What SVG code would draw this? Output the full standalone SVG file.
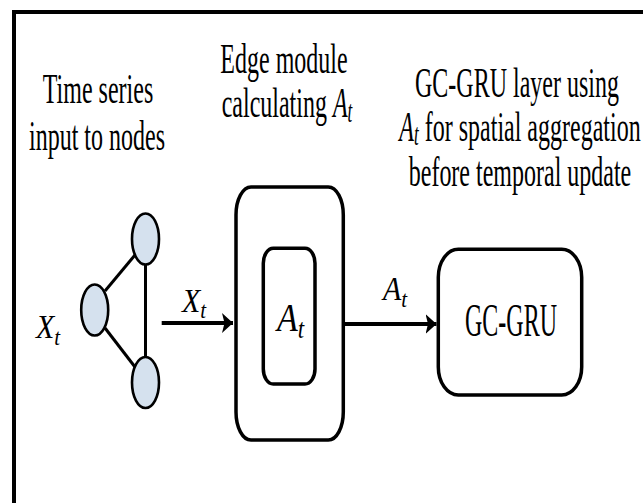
<svg xmlns="http://www.w3.org/2000/svg" width="643" height="503" viewBox="0 0 643 503">
  <style>
    .frame { fill: none; stroke: #000; stroke-width: 4; }
    .box { fill: #fff; stroke: #000; stroke-width: 3.5; }
    .node { fill: #d5e1ee; stroke: #000; stroke-width: 2.6; }
    .edge { stroke: #000; stroke-width: 3; fill: none; }
    .arrow { stroke: #000; stroke-width: 4; fill: none; }
    .title { font-family: "Liberation Serif", "Times New Roman", serif; font-size: 24px; fill: #000; text-anchor: middle; }
    .math { font-family: "Liberation Serif", "Times New Roman", serif; font-style: italic; fill: #000; }
    .label { font-family: "Liberation Serif", "Times New Roman", serif; font-size: 24px; fill: #000; text-anchor: middle; }
  </style>
  <defs>
    <marker id="head" markerUnits="userSpaceOnUse" markerWidth="14" markerHeight="22" refX="11" refY="10" orient="auto">
      <path d="M0,0 L11,10 L0,20 L2.5,10 Z" fill="#000"/>
    </marker>
  </defs>

  <rect width="643" height="503" fill="#fff"/>
  <!-- outer frame (runs off the right and bottom edges) -->
  <rect class="frame" x="14" y="12" width="700" height="600"/>

  <!-- column headings -->
  <g id="heading-input">
    <text class="title" transform="translate(98,103) scale(1,1.8)">Time series</text>
    <text class="title" transform="translate(97,150) scale(1,1.8)">input to nodes</text>
  </g>
  <g id="heading-edge">
    <text class="title" transform="translate(284,73) scale(1,1.8)">Edge module</text>
    <text class="title" transform="translate(287,117) scale(1,1.8)">calculating <tspan font-style="italic">A</tspan><tspan font-style="italic" font-size="17" dy="2.5">t</tspan></text>
  </g>
  <g id="heading-gru">
    <text class="title" transform="translate(517,97) scale(1,1.8)">GC-GRU layer using</text>
    <text class="title" transform="translate(520,141) scale(1,1.8)"><tspan font-style="italic">A</tspan><tspan font-style="italic" font-size="17" dy="2">t</tspan><tspan dy="-2"> for spatial aggregation</tspan></text>
    <text class="title" transform="translate(520,186) scale(1,1.8)">before temporal update</text>
  </g>

  <!-- input graph -->
  <g id="input-graph">
    <line class="edge" x1="105" y1="291" x2="135" y2="255"/>
    <line class="edge" x1="105" y1="328" x2="135" y2="367"/>
    <line class="edge" x1="145.5" y1="263" x2="145.5" y2="358"/>
    <ellipse class="node" cx="145.5" cy="239" rx="13.5" ry="25.5"/>
    <ellipse class="node" cx="94.7" cy="310" rx="13.5" ry="25.5"/>
    <ellipse class="node" cx="145.5" cy="382.5" rx="13.5" ry="25.5"/>
    <text class="math" font-size="30" transform="translate(36,338) scale(1,1.1)">X<tspan font-size="21" dy="6">t</tspan></text>
  </g>

  <!-- edge module -->
  <g id="edge-module">
    <rect class="box" x="236" y="187" width="107.3" height="253" rx="15" ry="28"/>
    <rect class="box" x="263.3" y="248.3" width="51.7" height="135.7" rx="10" ry="15"/>
    <text class="math" font-size="34" transform="translate(277,331) scale(1,1.2)">A<tspan font-size="23" dy="6">t</tspan></text>
  </g>

  <!-- GC-GRU layer -->
  <g id="gc-gru">
    <rect class="box" x="438.3" y="249.3" width="143.4" height="145.7" rx="20" ry="28"/>
    <text class="label" transform="translate(511,336) scale(1,1.9)">GC-GRU</text>
  </g>

  <!-- connectors -->
  <g id="connectors">
    <line class="arrow" x1="161.7" y1="323" x2="233" y2="323" marker-end="url(#head)"/>
    <text class="math" font-size="30" transform="translate(182,311.5) scale(1,1.1)">X<tspan font-size="21" dy="6">t</tspan></text>
    <line class="arrow" x1="343.3" y1="324" x2="436.5" y2="324" marker-end="url(#head)"/>
    <text class="math" font-size="30" transform="translate(383,300) scale(1,1.1)">A<tspan font-size="21" dy="6">t</tspan></text>
  </g>
</svg>
